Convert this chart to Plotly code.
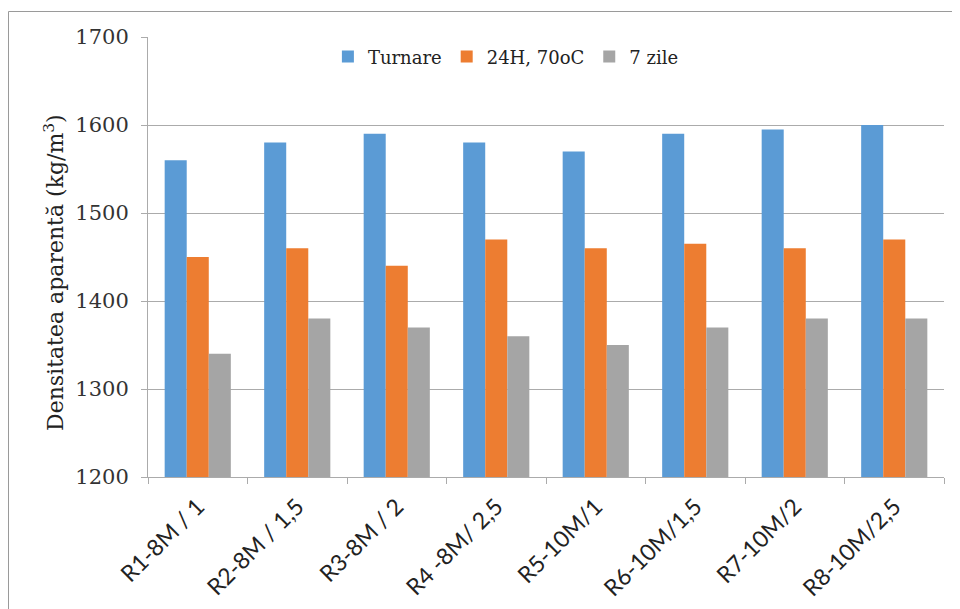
import plotly.graph_objects as go

categories = ["R1-8M / 1", "R2-8M / 1,5", "R3-8M / 2", "R4 -8M/ 2,5",
              "R5-10M/1", "R6-10M/1,5", "R7-10M/2", "R8-10M/2,5"]
turnare = [1560, 1580, 1590, 1580, 1570, 1590, 1595, 1600]
h24_70 = [1450, 1460, 1440, 1470, 1460, 1465, 1460, 1470]
zile7 = [1340, 1380, 1370, 1360, 1350, 1370, 1380, 1380]
series_names = ["Turnare", "24H, 70oC", "7 zile"]
colors = ["#5B9BD5", "#ED7D31", "#A5A5A5"]
y_ticks = [1200, 1300, 1400, 1500, 1600, 1700]
y_title = "Densitatea aparentă (kg/m<sup>3</sup>)"

fig = go.Figure()
for name, vals, col in zip(series_names, [turnare, h24_70, zile7], colors):
    fig.add_trace(go.Bar(x=categories, y=vals, name=name, marker_color=col,
                         marker_line_width=0))

SERIF = "DejaVu Serif"
# page body has an 8px margin; plot area in screen pixels: x 148..944, y 37..477
fig.update_layout(
    width=960, height=609,
    paper_bgcolor="white", plot_bgcolor="white",
    margin=dict(l=140, r=24, t=29, b=140, autoexpand=False),
    barmode="group", bargap=0.335, bargroupgap=0,
    showlegend=True,
    legend=dict(orientation="h", x=0.226, xanchor="left", y=0.955, yanchor="middle",
                font=dict(family=SERIF, size=18, color="#222"),
                bgcolor="rgba(0,0,0,0)", itemwidth=30, tracegroupgap=0),
    font=dict(family=SERIF, color="#333"),
)
fig.update_yaxes(range=[1200, 1700], tickvals=y_ticks, showgrid=True,
                 gridcolor="#ABABAB", gridwidth=1, zeroline=False,
                 showline=True, linecolor="#ABABAB", linewidth=1,
                 ticks="outside", ticklen=6, tickcolor="#ABABAB",
                 tickfont=dict(family=SERIF, size=21, color="#333"),
                 ticklabelstandoff=8, automargin=False)
fig.update_xaxes(type="category", showline=True, linecolor="#ABABAB", linewidth=1,
                 ticks="outside", ticklen=6, tickcolor="#ABABAB", tickson="boundaries",
                 tickangle=-45, ticklabelstandoff=6,
                 tickfont=dict(family="Lato", size=23, color="#222"),
                 showgrid=False, automargin=False)

fig.add_annotation(text=y_title, textangle=-90, xref="paper", yref="paper",
                   x=(54 - 148) / 796, y=(477 - 273) / 440, xanchor="center", yanchor="middle",
                   showarrow=False, font=dict(family=SERIF, size=22, color="#222"))

fig.add_shape(type="rect", xref="paper", yref="paper",
              x0=(8.5 - 148) / 796, x1=1.2, y0=-0.5, y1=(477 - 11.5) / 440,
              line=dict(color="#9A9A9A", width=1), fillcolor="rgba(0,0,0,0)", layer="below")

fig.write_html("out.html")
